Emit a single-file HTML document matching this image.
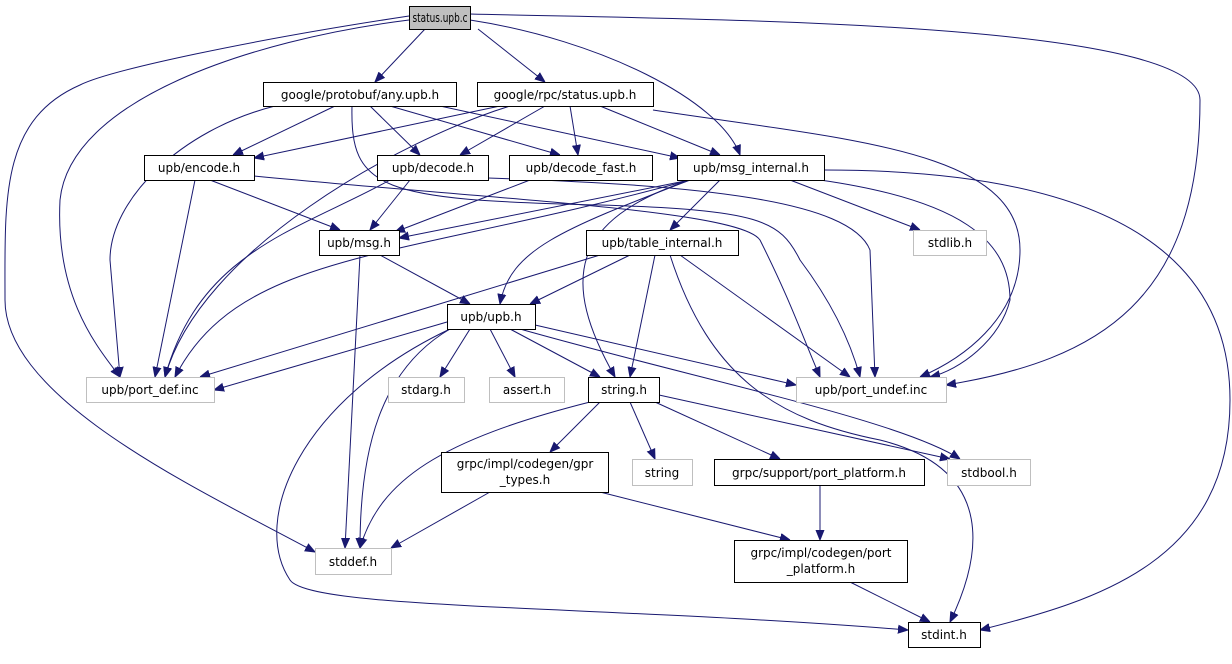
<!DOCTYPE html>
<html><head><meta charset="utf-8"><style>
html,body{margin:0;padding:0;background:#fff}
svg{display:block}
text{font-family:"DejaVu Sans","Liberation Sans",sans-serif;font-size:12px;fill:#000}
.n{fill:#fff;stroke:#000;stroke-width:1}
.g{fill:#fff;stroke:#bfbfbf;stroke-width:1}
.e{fill:none;stroke:#191970;stroke-width:1}
</style></head><body>
<svg width="1232" height="664" viewBox="0 0 1232 664" xmlns="http://www.w3.org/2000/svg">
<defs><marker id="a" viewBox="0 0 10 10" refX="10" refY="5" markerWidth="10" markerHeight="10" markerUnits="userSpaceOnUse" orient="auto"><path d="M0,1 L10,5 L0,9 z" fill="#191970" stroke="#191970"/></marker></defs>
<g class="e" marker-end="url(#a)">
<path d="M425,29 L375,82"/>
<path d="M478,29 L545,82"/>
<path d="M470,20 C600,40 720,100 740,155"/>
<path d="M409,20 C250,40 70,100 60,200 C55,300 100,350 120,377"/>
<path d="M409,16 C250,40 110,70 80,85 C0,120 5,200 5,300 C5,400 200,490 315,552"/>
<path d="M470,14 C700,20 1200,20 1200,100 C1200,300 1100,360 946,385"/>
<path d="M335,106 L233,155"/>
<path d="M370,106 L420,155"/>
<path d="M390,106 L560,155"/>
<path d="M440,106 L680,158"/>
<path d="M275,106 C180,130 110,200 110,260 L120,377"/>
<path d="M352,106 C350,190 380,200 600,205 C760,210 780,220 800,260 C830,300 850,340 860,377"/>
<path d="M500,106 L254,158"/>
<path d="M545,106 L460,155"/>
<path d="M570,106 L578,155"/>
<path d="M600,106 L720,155"/>
<path d="M510,106 C400,140 200,250 165,377"/>
<path d="M653,110 C850,140 1020,150 1020,250 C1020,320 960,360 920,377"/>
<path d="M210,180 L340,230"/>
<path d="M195,180 L155,377"/>
<path d="M254,176 C500,200 740,210 760,240 C790,300 800,330 820,377"/>
<path d="M410,180 L370,230"/>
<path d="M390,180 C300,230 200,250 165,377"/>
<path d="M488,178 C700,185 850,200 870,250 L875,377"/>
<path d="M530,180 L395,232"/>
<path d="M690,180 L399,238"/>
<path d="M720,180 L670,230"/>
<path d="M790,180 L920,230"/>
<path d="M690,180 C560,230 510,250 500,304"/>
<path d="M690,180 C570,220 560,280 615,377"/>
<path d="M690,180 C400,260 240,250 175,377"/>
<path d="M820,180 C960,200 1010,240 1010,300 C1000,340 960,370 930,377"/>
<path d="M824,170 C1100,170 1230,250 1230,400 C1230,560 1100,600 980,630"/>
<path d="M380,255 L470,304"/>
<path d="M360,255 L345,548"/>
<path d="M630,255 L530,304"/>
<path d="M655,255 L630,377"/>
<path d="M600,255 L200,377"/>
<path d="M680,255 L850,377"/>
<path d="M670,255 C710,380 780,420 880,440 C1000,470 980,560 950,622"/>
<path d="M447,322 L214,390"/>
<path d="M470,329 L440,377"/>
<path d="M490,329 L515,377"/>
<path d="M510,329 L600,377"/>
<path d="M535,325 L796,385"/>
<path d="M520,329 C700,380 900,420 960,459"/>
<path d="M450,329 C380,370 360,450 360,548"/>
<path d="M450,329 C300,400 250,520 290,580 C310,610 600,605 908,630"/>
<path d="M600,402 L550,452"/>
<path d="M630,402 L655,459"/>
<path d="M655,402 L780,459"/>
<path d="M659,395 L950,459"/>
<path d="M590,402 C440,440 380,480 360,548"/>
<path d="M490,492 L391,548"/>
<path d="M600,492 L790,540"/>
<path d="M820,485 L820,540"/>
<path d="M850,582 L930,622"/>
</g>
<rect x="409.5" y="6.5" width="61" height="23" fill="#bfbfbf" stroke="#000"/><text x="440" y="22" text-anchor="middle" textLength="55" lengthAdjust="spacingAndGlyphs">status.upb.c</text>
<rect class="n" x="263.5" y="82.5" width="193" height="24"/><text x="360" y="99" text-anchor="middle">google/protobuf/any.upb.h</text>
<rect class="n" x="477.5" y="82.5" width="176" height="24"/><text x="565" y="99" text-anchor="middle">google/rpc/status.upb.h</text>
<rect class="n" x="144.5" y="155.5" width="110" height="25"/><text x="199" y="172" text-anchor="middle">upb/encode.h</text>
<rect class="n" x="377.5" y="155.5" width="111" height="25"/><text x="433" y="172" text-anchor="middle">upb/decode.h</text>
<rect class="n" x="509.5" y="155.5" width="143" height="25"/><text x="581" y="172" text-anchor="middle">upb/decode_fast.h</text>
<rect class="n" x="677.5" y="155.5" width="147" height="25"/><text x="751" y="172" text-anchor="middle">upb/msg_internal.h</text>
<rect class="n" x="319.5" y="230.5" width="80" height="25"/><text x="359" y="247" text-anchor="middle">upb/msg.h</text>
<rect class="n" x="586.5" y="230.5" width="152" height="25"/><text x="662" y="247" text-anchor="middle">upb/table_internal.h</text>
<rect class="g" x="913.5" y="230.5" width="73" height="25"/><text x="950" y="247" text-anchor="middle">stdlib.h</text>
<rect class="n" x="447.5" y="304.5" width="88" height="25"/><text x="491" y="321" text-anchor="middle">upb/upb.h</text>
<rect class="g" x="86.5" y="377.5" width="128" height="25"/><text x="150" y="394" text-anchor="middle">upb/port_def.inc</text>
<rect class="g" x="388.5" y="377.5" width="76" height="25"/><text x="426" y="394" text-anchor="middle">stdarg.h</text>
<rect class="g" x="489.5" y="377.5" width="75" height="25"/><text x="527" y="394" text-anchor="middle">assert.h</text>
<rect class="n" x="588.5" y="377.5" width="71" height="25"/><text x="624" y="394" text-anchor="middle">string.h</text>
<rect class="g" x="796.5" y="377.5" width="150" height="25"/><text x="871" y="394" text-anchor="middle">upb/port_undef.inc</text>
<rect class="n" x="441.5" y="452.5" width="167" height="40"/><text x="525" y="468" text-anchor="middle">grpc/impl/codegen/gpr</text><text x="525" y="484" text-anchor="middle">_types.h</text>
<rect class="g" x="632.5" y="459.5" width="60" height="26"/><text x="662" y="477" text-anchor="middle">string</text>
<rect class="n" x="714.5" y="459.5" width="210" height="26"/><text x="819" y="477" text-anchor="middle">grpc/support/port_platform.h</text>
<rect class="g" x="947.5" y="459.5" width="83" height="26"/><text x="989" y="477" text-anchor="middle">stdbool.h</text>
<rect class="g" x="315.5" y="548.5" width="76" height="26"/><text x="353" y="566" text-anchor="middle">stddef.h</text>
<rect class="n" x="734.5" y="540.5" width="173" height="42"/><text x="821" y="557" text-anchor="middle">grpc/impl/codegen/port</text><text x="821" y="573" text-anchor="middle">_platform.h</text>
<rect class="n" x="908.5" y="622.5" width="72" height="25"/><text x="944" y="639" text-anchor="middle">stdint.h</text>
</svg>
</body></html>
